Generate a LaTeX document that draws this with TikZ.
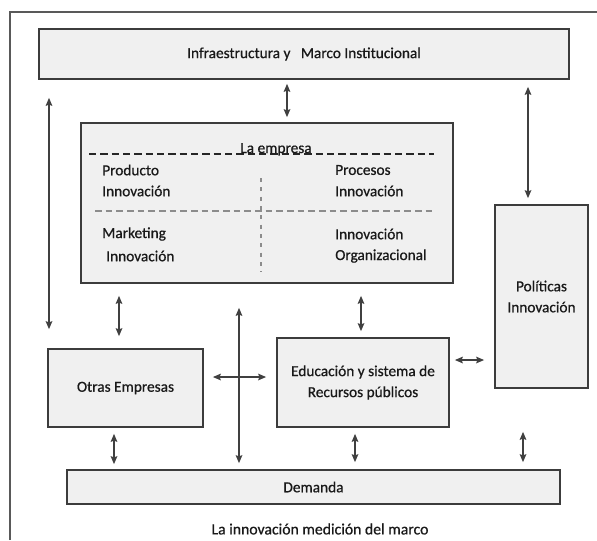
\documentclass[tikz,border=0pt]{standalone}
\usepackage{fontspec}
\setmainfont{Carlito}[FakeBold=0.7]
\usetikzlibrary{arrows.meta}
\definecolor{boxfill}{RGB}{240,240,240}
\definecolor{boxline}{RGB}{60,60,60}
\tikzset{
  box/.style={draw=boxline, line width=1.3pt, fill=boxfill, inner sep=0pt, align=center, text=black!90, font=\fontsize{11.5}{15.75}\selectfont},
  sz/.style 2 args={minimum width={#1*0.75pt}, minimum height={#2*0.75pt}},
  lbl/.style={inner sep=0pt, font=\fontsize{11.5}{14}\selectfont, text=black!90},
  arr/.style={draw=black!75, line width=1pt, {Stealth[length=6pt,width=5pt,inset=1pt]}-{Stealth[length=6pt,width=5pt,inset=1pt]}},
  dashA/.style={draw=black!85, line width=1.1pt, dash pattern=on 5.5pt off 3pt},
  dashB/.style={draw=black!45, line width=1.1pt, dash pattern=on 5pt off 3pt},
  dashC/.style={draw=black!45, line width=1.1pt, dash pattern=on 3pt off 4pt},
}
\begin{document}
\begin{tikzpicture}[x=0.75pt,y=-0.75pt]
\useasboundingbox (0,0) rectangle (597,540);
% outer frame
\draw[draw=black!65, line width=1.5pt] (10,540) -- (10,12) -- (597,12);
% boxes
\node[box, sz={530}{50}] (infra) at (304,54) {Infraestructura y \ \ Marco Institucional};
\node[box, sz={372}{160}] (emp) at (267,203) {};
\node[box, sz={93}{183}] (pol) at (541.5,296.5) {Políticas\\Innovación};
\node[box, sz={155}{78}] (otras) at (125.5,388) {Otras Empresas};
\node[box, sz={172}{89}] (educ) at (363,382.5) {Educación y sistema de\\Recursos públicos};
\node[box, sz={493}{34}] (dem) at (313.5,487) {Demanda};
% inside La empresa
\draw[dashA] (89,154) -- (434,154);
\node[lbl, anchor=base] (empt) at (276,153) {La empresa};
\draw[dashB] (95,211) -- (434,211);
\draw[dashC] (261,178) -- (261,272);
\node[lbl, anchor=west] (p1) at (102,170) {Producto};
\node[lbl, anchor=west] (p2) at (102,191) {Innovación};
\node[lbl, anchor=west] (q1) at (335,170) {Procesos};
\node[lbl, anchor=west] (q2) at (335,191) {Innovación};
\node[lbl, anchor=west] (m1) at (102,234) {Marketing};
\node[lbl, anchor=west] (m2) at (106,256) {Innovación};
\node[lbl, anchor=west] (o1) at (335,234) {Innovación};
\node[lbl, anchor=west] (o2) at (335,256) {Organizacional};
% caption
\node[lbl, anchor=center, font=\fontsize{11.8}{14}\selectfont] (cap) at (320,529) {La innovación medición del marco};
% arrow columns
\coordinate (x287) at (287,0);
\coordinate (x49) at (49,0);
\coordinate (x528) at (528,0);
\coordinate (x119) at (119,0);
\coordinate (x361) at (361,0);
\coordinate (x239) at (239,0);
\coordinate (x114) at (114,0);
\coordinate (x355) at (355,0);
\coordinate (x523) at (523,0);
\coordinate (y377) at (0,377);
\coordinate (y360) at (0,360);
% arrows
\draw[arr, shorten <=3pt, shorten >=3.75pt] (infra.south -| x287) -- (emp.north -| x287);
\draw[arr, shorten <=13.5pt, shorten >=14.25pt] (infra.south -| x49) -- (otras.north -| x49);
\draw[arr, shorten <=5.25pt, shorten >=4.5pt] (infra.south -| x528) -- (pol.north -| x528);
\draw[arr, shorten <=9pt, shorten >=9pt] (emp.south -| x119) -- (otras.north -| x119);
\draw[arr, shorten <=9pt, shorten >=4.5pt] (emp.south -| x361) -- (educ.north -| x361);
\draw[arr, shorten <=18pt, shorten >=4.5pt] (emp.south -| x239) -- (dem.north -| x239);
\draw[arr, shorten <=6.75pt, shorten >=7.5pt] (otras.east |- y377) -- (educ.west |- y377);
\draw[arr, shorten <=3.75pt, shorten >=7.5pt] (educ.east |- y360) -- (pol.west |- y360);
\draw[arr, shorten <=4.5pt, shorten >=3.75pt] (otras.south -| x114) -- (dem.north -| x114);
\draw[arr, shorten <=4.5pt, shorten >=5.25pt] (educ.south -| x355) -- (dem.north -| x355);
\draw[arr, shorten <=32.25pt, shorten >=5.25pt] (pol.south -| x523) -- (dem.north -| x523);
\end{tikzpicture}
\end{document}
